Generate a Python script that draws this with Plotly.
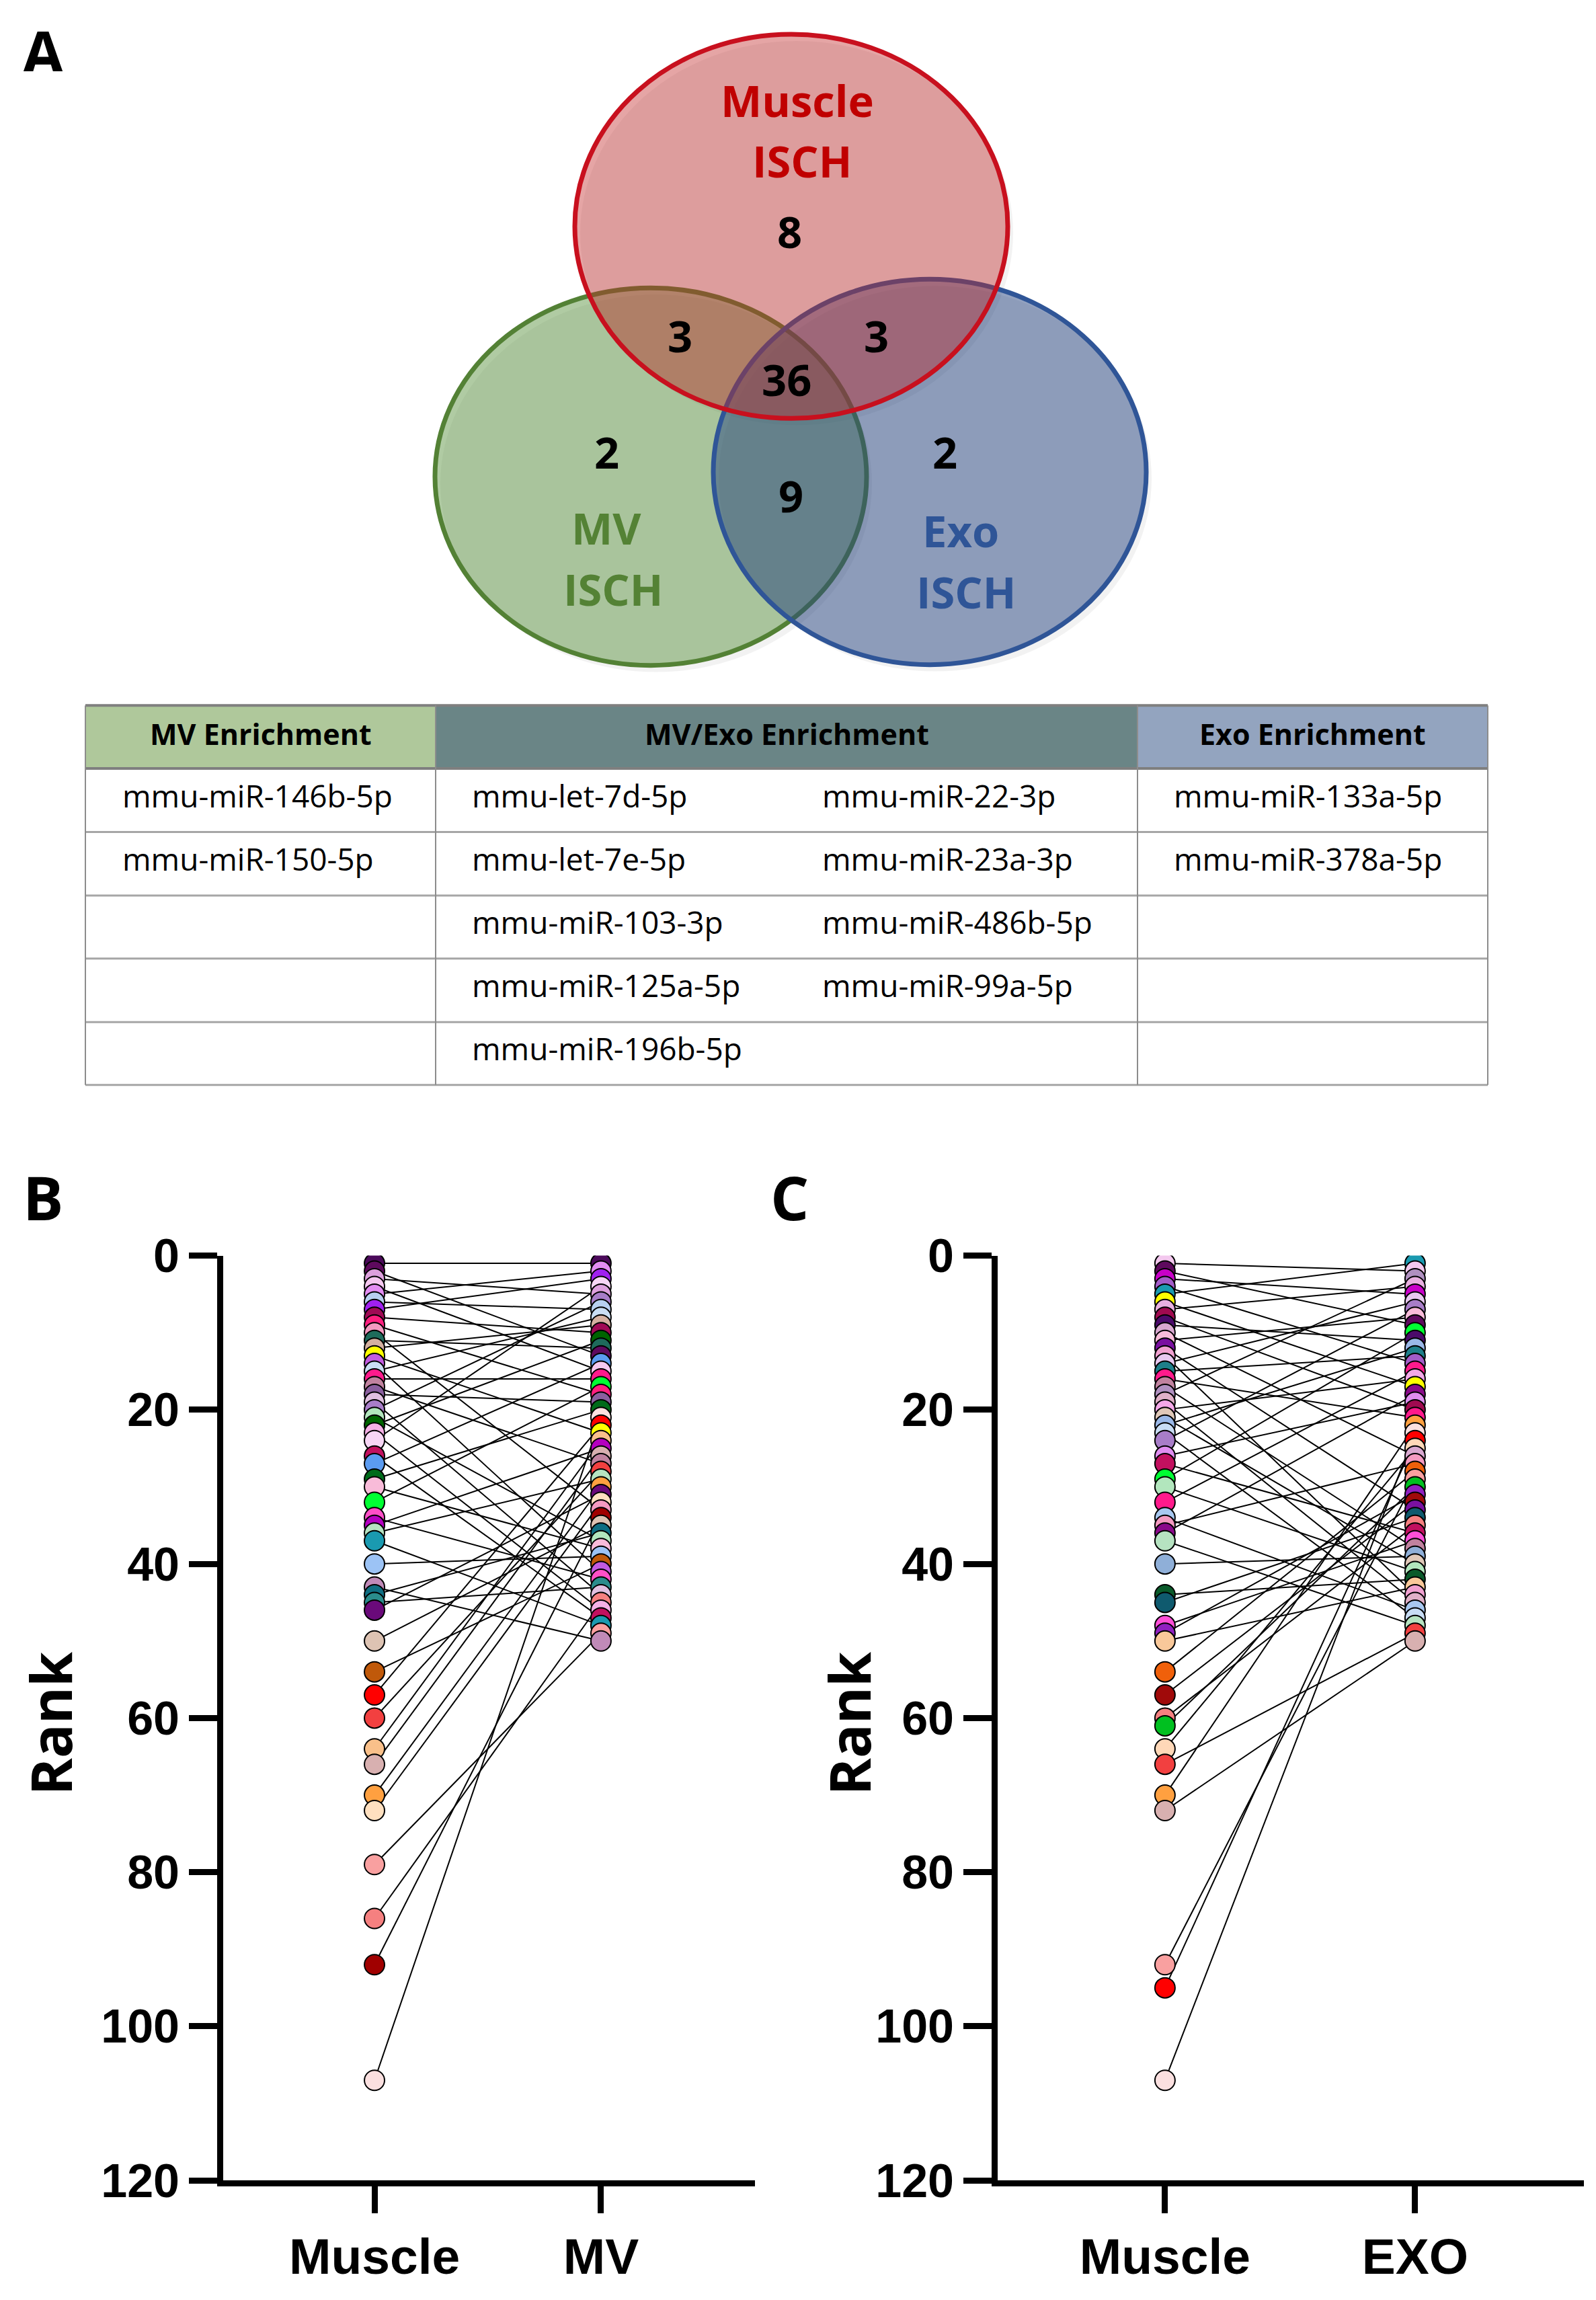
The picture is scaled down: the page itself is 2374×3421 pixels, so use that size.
import plotly.graph_objects as go
import numpy as np

W, H = 2374, 3421
# small vertical correction so the photographed page lines up with the target layout
Y_SCALE, Y_OFF = 0.982, 42


def px(x):
    return x / W


def py(y):
    return 1 - ((y - Y_OFF) / Y_SCALE) / H


# ---------------- data ----------------
venn_labels = [["Muscle", "ISCH"], ["MV", "ISCH"], ["Exo", "ISCH"]]
# Muscle only, MV only, Exo only, Muscle&MV, Muscle&Exo, MV&Exo, all three
venn_counts = [8, 2, 2, 3, 3, 9, 36]

table_headers = ["MV Enrichment", "MV/Exo Enrichment", "Exo Enrichment"]
mv_enriched = ["mmu-miR-146b-5p", "mmu-miR-150-5p"]
mv_exo_enriched_a = ["mmu-let-7d-5p", "mmu-let-7e-5p", "mmu-miR-103-3p",
                     "mmu-miR-125a-5p", "mmu-miR-196b-5p"]
mv_exo_enriched_b = ["mmu-miR-22-3p", "mmu-miR-23a-3p", "mmu-miR-486b-5p",
                     "mmu-miR-99a-5p"]
exo_enriched = ["mmu-miR-133a-5p", "mmu-miR-378a-5p"]

# Panel B: rank in muscle vs rank in MV
muscle_rank_B = [1, 2, 3, 4, 5, 6, 7, 8, 9, 10, 11, 12, 13, 14, 15, 16, 17, 18, 19, 20,
                 21, 22, 23, 24, 26, 27, 29, 30, 32, 34, 35, 36, 37, 40, 43, 44, 45, 46,
                 50, 54, 57, 60, 64, 66, 70, 72, 79, 86, 92, 107]
mv_rank_B = [1, 13, 5, 15, 2, 7, 3, 10, 18, 33, 12, 9, 23, 41, 8, 16, 27, 19, 44, 6,
             37, 11, 46, 4, 47, 14, 20, 38, 17, 42, 25, 29, 48, 39, 50, 36, 43, 31,
             35, 40, 22, 28, 24, 26, 30, 32, 49, 45, 34, 21]
colors_B = ["#4B0A5A", "#5E0A5E", "#DDA0DD", "#F5C8F0", "#E38DF2", "#B7D0F0", "#A020F0",
            "#A00A55", "#FF1F7F", "#F49AC1", "#1E6B5B", "#D4B0A0", "#FFFF00", "#C25BE0",
            "#C9DDF3", "#FF1A8C", "#C0829F", "#8A5F9E", "#E0C0E0", "#A87DC8", "#B2E6BD",
            "#006400", "#F6B0E6", "#F7D6F5", "#C2105F", "#5B9BF0", "#006B1A", "#F8BBD9",
            "#00FF33", "#FF4FC8", "#B400C0", "#B6E3C1", "#1A9AB0", "#9CC3F5", "#C08AB8",
            "#0F6E82", "#2A8C8C", "#6A0A7A", "#DDC3B3", "#C0590A", "#FF0000", "#F24040",
            "#F9C08A", "#D8B0B0", "#FFA040", "#FFE0C0", "#F9A0A0", "#F58080", "#A00000",
            "#FBE0E0"]

# Panel C: rank in muscle vs rank in EXO
muscle_rank_C = [1, 2, 3, 4, 5, 6, 7, 8, 9, 10, 11, 12, 13, 14, 15, 16, 17, 18, 19, 20,
                 21, 22, 23, 24, 26, 27, 29, 30, 32, 34, 35, 36, 37, 40, 44, 45, 48, 49,
                 50, 54, 57, 60, 61, 64, 66, 70, 72, 92, 95, 107]
exo_rank_C = [2, 9, 5, 14, 1, 17, 4, 20, 11, 26, 8, 33, 44, 6, 13, 21, 38, 3, 45, 16,
              40, 12, 47, 7, 19, 36, 10, 41, 15, 46, 27, 18, 48, 39, 42, 34, 37, 31,
              43, 28, 32, 35, 30, 25, 49, 22, 50, 29, 24, 23]
colors_C = ["#F3C8EE", "#5E0A5E", "#C800C8", "#A35CC8", "#1A9AB0", "#FFFF00", "#E8B0E0",
            "#A00A50", "#4B0A6A", "#D9A8D0", "#F8BBD9", "#7A10A0", "#F0A0D0", "#E8C8F0",
            "#1E7F8A", "#FF1A8C", "#C0829F", "#B090C0", "#E0B0C8", "#F4A8E8", "#E0C8B8",
            "#9AB8E8", "#C8DDF5", "#A87DC8", "#E08DF0", "#C2105F", "#00FF33", "#B2E6BD",
            "#FF1A8C", "#A8C8F0", "#F49AC1", "#8A0A8A", "#B6E3C1", "#8FAFD8", "#0A5A2A",
            "#0F5A6E", "#FF4FD8", "#9020C0", "#F9C89A", "#F0600A", "#A00A0A", "#F58080",
            "#00C020", "#FFD8B8", "#F24040", "#FFA040", "#D8B0B0", "#F9A0A0", "#FF0000",
            "#FBE0E0"]

y_ticks = [0, 20, 40, 60, 80, 100, 120]

# ---------------- figure ----------------
fig = go.Figure()
shapes = []
annotations = []


def text_at(x, y, text, size, color="black", bold=True, family="Open Sans",
            xanchor="center", angle=0, height=None):
    ann = dict(x=px(x), y=py(y), xref="paper", yref="paper", text=text,
               showarrow=False, xanchor=xanchor, yanchor="middle",
               textangle=angle, align="center",
               font=dict(family=family, size=size, color=color,
                         weight="bold" if bold else "normal"))
    if height is not None:
        ann["height"] = height
    annotations.append(ann)


# ---- Venn diagram (panel A) ----
venn_geom = [  # (cx, cy, rx, ry, fill, line)
    (960, 708, 321, 282, "rgba(80,140,50,0.45)", "#538135"),
    (1375, 701, 322, 288, "rgba(40,70,130,0.5)", "#2F5597"),
    (1169, 334, 322, 287, "rgba(192,40,40,0.42)", "#C8101E"),
]
for cx, cy, rx, ry, fc, lc in venn_geom:
    shapes.append(dict(type="circle", xref="paper", yref="paper",
                       x0=px(cx - rx + 8), x1=px(cx + rx + 8),
                       y0=py(cy + ry + 10), y1=py(cy - ry + 10),
                       fillcolor="rgba(0,0,0,0.05)", line=dict(width=0), layer="below"))
for cx, cy, rx, ry, fc, lc in venn_geom:
    shapes.append(dict(type="circle", xref="paper", yref="paper",
                       x0=px(cx - rx), x1=px(cx + rx), y0=py(cy + ry), y1=py(cy - ry),
                       fillcolor=fc, line=dict(color=lc, width=7)))

venn_label_pos = [((1178, 145), (1185, 236), "#C00000"),
                  ((894, 784), (904, 876), "#548235"),
                  ((1421, 788), (1429, 880), "#2F5597")]
for lines, (p1, p2, c) in zip(venn_labels, venn_label_pos):
    text_at(p1[0], p1[1], lines[0], 65, c)
    text_at(p2[0], p2[1], lines[1], 65, c)

count_pos = [(1166, 341), (894, 671), (1397, 671), (1004, 497), (1295, 497),
             (1168, 736), (1162, 562)]
for n, (x, y) in zip(venn_counts, count_pos):
    text_at(x, y, str(n), 65)

# ---- Table ----
col_x = [119, 640, 1684, 2205]
row_y = [1050, 1144, 1239, 1334, 1428, 1523, 1617]
header_fill = ["#AFC89B", "#6A8586", "#93A4BF"]
for i in range(3):
    shapes.append(dict(type="rect", xref="paper", yref="paper",
                       x0=px(col_x[i]), x1=px(col_x[i + 1]), y0=py(row_y[1]), y1=py(row_y[0]),
                       fillcolor=header_fill[i], line=dict(width=0)))
for j, yy in enumerate(row_y):
    shapes.append(dict(type="line", xref="paper", yref="paper",
                       x0=px(col_x[0]), x1=px(col_x[-1]), y0=py(yy), y1=py(yy),
                       line=dict(color="#7F7F7F" if j in (0, 1) else "#A6A6A6",
                                 width=4 if j in (0, 1) else 3)))
for xx in col_x:
    shapes.append(dict(type="line", xref="paper", yref="paper",
                       x0=px(xx), x1=px(xx), y0=py(row_y[0]), y1=py(row_y[-1]),
                       line=dict(color="#8C8C8C", width=2)))

header_cx = [380, 1162, 1944]
for t, x in zip(table_headers, header_cx):
    text_at(x, 1092, t, 43)

row_cy = [1184, 1279, 1373, 1468, 1562]
for col_left, items in [(172, mv_enriched), (692, mv_exo_enriched_a),
                        (1213, mv_exo_enriched_b), (1736, exo_enriched)]:
    for k, t in enumerate(items):
        text_at(col_left, row_cy[k], t, 46, bold=False, xanchor="left")


# ---- Slope plots ----
def add_panel(muscle, other, colors, xa, ya):
    muscle = np.asarray(muscle)
    other = np.asarray(other)
    colors = np.asarray(colors)
    lx, ly = [], []
    for m, o in zip(muscle, other):
        lx += [0, 1, None]
        ly += [m, o, None]
    fig.add_trace(go.Scatter(x=lx, y=ly, mode="lines", xaxis=xa, yaxis=ya,
                             line=dict(color="black", width=2), hoverinfo="skip",
                             showlegend=False))
    fig.add_trace(go.Scatter(x=np.zeros(len(muscle)), y=muscle, mode="markers",
                             xaxis=xa, yaxis=ya, showlegend=False,
                             marker=dict(size=30, color=list(colors),
                                         line=dict(color="black", width=2))))
    order = np.argsort(other)
    fig.add_trace(go.Scatter(x=np.ones(len(other)), y=other[order], mode="markers",
                             xaxis=xa, yaxis=ya, showlegend=False,
                             marker=dict(size=30, color=list(colors[order]),
                                         line=dict(color="black", width=2))))


add_panel(muscle_rank_B, mv_rank_B, colors_B, "x", "y")
add_panel(muscle_rank_C, exo_rank_C, colors_C, "x2", "y2")

ytickfont = dict(family="Liberation Sans", size=70, color="black", weight="bold")
xtickfont = dict(family="Liberation Sans", size=75, color="black", weight="bold")
ydom = [py(3254), py(1872)]
yax = dict(range=[120, 0], tickvals=y_ticks, showgrid=False, zeroline=False,
           showline=True, linecolor="black", linewidth=9, ticks="outside",
           ticklen=42, tickwidth=9, tickcolor="black", tickfont=ytickfont, domain=ydom)
xax_common = dict(tickvals=[0, 1], showgrid=False, zeroline=False, showline=True,
                  linecolor="black", linewidth=9, ticks="outside", ticklen=40,
                  tickwidth=9, tickcolor="black", tickfont=xtickfont)

fig.update_layout(
    xaxis=dict(**xax_common, range=[-0.668, 1.68], ticktext=["Muscle", "MV"],
               domain=[px(324), px(1115)], anchor="y"),
    yaxis=dict(**yax, anchor="x"),
    xaxis2=dict(**xax_common, range=[-0.669, 1.675], ticktext=["Muscle", "EXO"],
                domain=[px(1476), px(2348)], anchor="y2"),
    yaxis2=dict(**yax, anchor="x2"),
)

for x in (66, 1254):
    text_at(x, 2571, "Rank", 84, angle=-90)

text_at(56, 72, "A", 90, height=60)
for lbl, x, y in [("B", 56, 1784), ("C", 1166, 1784)]:
    text_at(x, y, lbl, 90)

fig.update_layout(width=W, height=H, autosize=False,
                  margin=dict(l=0, r=0, t=0, b=0),
                  paper_bgcolor="white", plot_bgcolor="white",
                  shapes=shapes, annotations=annotations, showlegend=False)

fig.write_html("out.html")
